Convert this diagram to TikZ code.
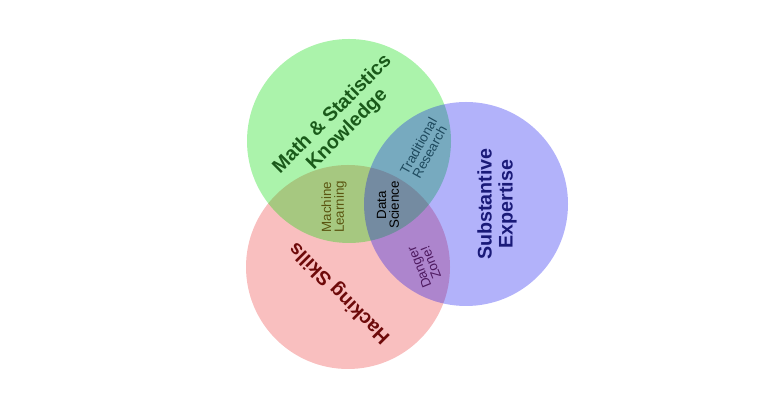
\documentclass[tikz,border=0pt]{standalone}
\usepackage{fontspec}
\setmainfont{Liberation Sans}
\usetikzlibrary{positioning}
\definecolor{xgreen}{RGB}{0,220,0}
\definecolor{xred}{RGB}{230,0,0}
\definecolor{xblue}{RGB}{0,0,240}
\definecolor{tgreen}{HTML}{1A5A1A}
\definecolor{tred}{HTML}{6E0A0A}
\definecolor{tblue}{HTML}{1A1A78}
\definecolor{tolive}{HTML}{5A5510}
\definecolor{tteal}{HTML}{1E4A5E}
\definecolor{tpurple}{HTML}{4E1A60}
\tikzset{
	setdisk/.style={circle, minimum size=5.1cm, inner sep=0pt},
	biglabel/.style={font=\fontsize{14}{15}\selectfont\bfseries, align=center},
	smalllabel/.style={font=\fontsize{9.5}{9}\selectfont, align=center},
}

\begin{document}
\begin{tikzpicture}
	\useasboundingbox (0,0) rectangle (19,10);
% The three sets
		\node[setdisk, fill=xred, fill opacity=0.25] (hack) at (8.7,3.325) {};
		\node[setdisk, fill=xgreen, fill opacity=0.33] (math) at (8.725,6.475) {};
		\node[setdisk, fill=xblue, fill opacity=0.30] (subs) at (11.65,4.9) {};

% Set labels
		\node[biglabel, text=tgreen, rotate=45] (mathlbl) at (8.5,6.95) {Math \& Statistics\\Knowledge};
		\node[biglabel, text=tblue, rotate=90] (subslbl) at (12.425,4.9) {Substantive\\Expertise};
		\node[biglabel, text=tred, rotate=135] (hacklbl) at (8.5,2.675) {Hacking Skills};

% Overlaps
		\node[smalllabel, text=tolive, rotate=90] (ml) at (8.35,4.825) {Machine\\Learning};
		\node[smalllabel, text=black, rotate=90] (ds) at (9.7,4.875) {Data\\Science};
		\node[smalllabel, text=tteal, rotate=61] (tr) at (10.6,6.275) {Traditional\\Research};
		\node[smalllabel, text=tpurple, rotate=112] (dz) at (10.625,3.375) {Danger\\Zone!};
	\end{tikzpicture}
\end{document}
